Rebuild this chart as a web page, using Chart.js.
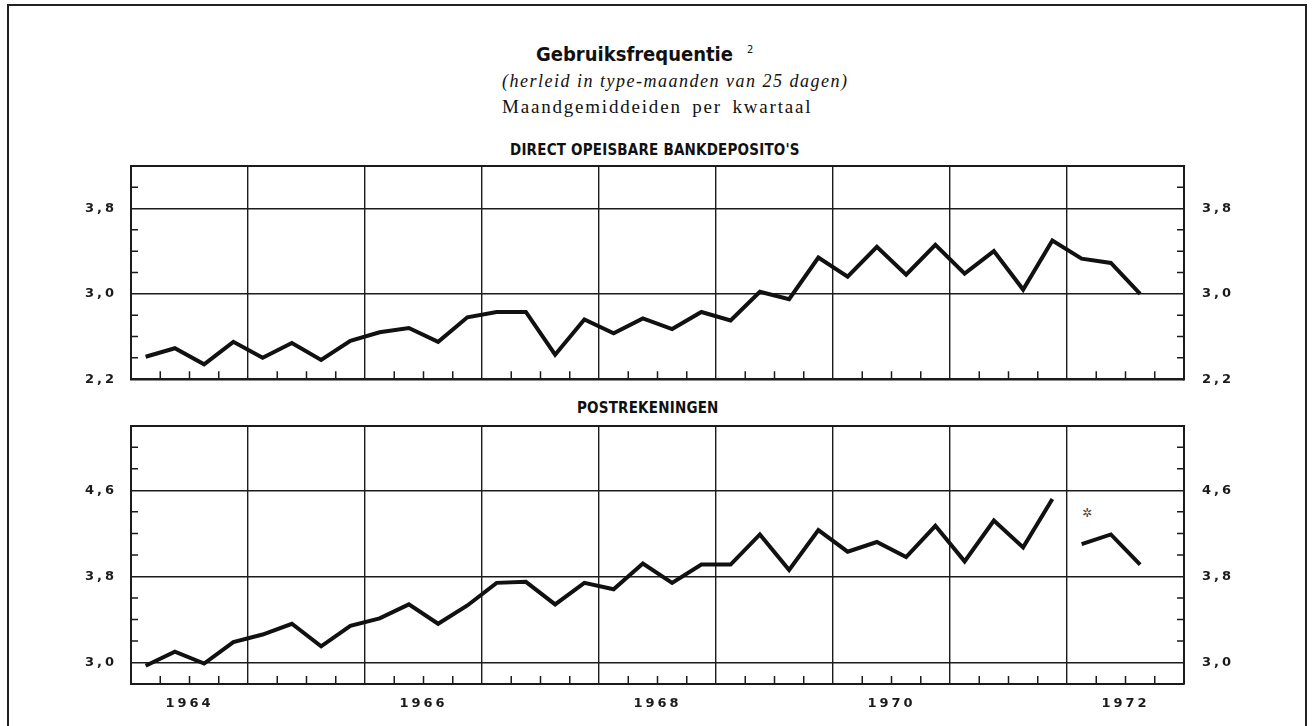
<!DOCTYPE html>
<html lang="nl">
<head>
<meta charset="utf-8">
<title>Gebruiksfrequentie</title>
<script src="https://cdn.jsdelivr.net/npm/chart.js@4.4.1/dist/chart.umd.min.js"></script>
<style>
  html, body { margin: 0; padding: 0; background: #fff; }
  body { width: 1313px; height: 726px; position: relative; overflow: hidden; color: #111; }
  .frame { position: absolute; left: 7px; top: 4px; width: 1300px; height: 760px; box-sizing: border-box; border: 2px solid #222; }
  .txt { position: absolute; white-space: nowrap; transform: translateY(-50%); line-height: 1; }
  .title { left: 536px; top: 54px; font: bold 20px "Liberation Sans Narrow", "DejaVu Sans Condensed", sans-serif; letter-spacing: 0; }
  .title sup { font-size: 11px; font-weight: normal; margin-left: 14px; vertical-align: 8px; }
  .sub { left: 502px; top: 81px; font: italic 18px "Liberation Serif", serif; letter-spacing: 1.5px; }
  .sub2 { left: 502px; top: 107px; font: 19px "Liberation Serif", serif; letter-spacing: 1.8px; word-spacing: 4px; }
  .panel { font: bold 15px "Liberation Sans Narrow", "DejaVu Sans Condensed", sans-serif; letter-spacing: .2px; }
  .star { left: 1082px; top: 513px; font: 12px "DejaVu Sans", sans-serif; color: #444; }
  canvas { position: absolute; left: 0; }
</style>
</head>
<body>
<div class="frame"></div>
<div class="txt title">Gebruiksfrequentie<sup>2</sup></div>
<div class="txt sub">(herleid in type-maanden van 25 dagen)</div>
<div class="txt sub2">Maandgemiddeiden per kwartaal</div>
<div class="txt panel" style="left:510px;top:150px">DIRECT OPEISBARE BANKDEPOSITO'S</div>
<div class="txt panel" style="left:577px;top:408px">POSTREKENINGEN</div>
<div class="txt star">✲</div>

<canvas id="chart-deposito" style="top:140px;width:1313px;height:265px"></canvas>
<canvas id="chart-post" style="top:400px;width:1313px;height:326px"></canvas>

<script>
// ─── Gegevens ───────────────────────────────────────────────────────────────

const firstYear = 1964;
const lastYear = 1972;
const yearLabels = ['1964', '1966', '1968', '1970', '1972'];

// Direct opeisbare bankdeposito's, 1964-I t/m 1972-III
const depositos = [
  2.41, 2.49, 2.34, 2.55,
  2.40, 2.54, 2.38, 2.56,
  2.64, 2.68, 2.55, 2.78,
  2.83, 2.83, 2.43, 2.76,
  2.63, 2.77, 2.67, 2.83,
  2.75, 3.02, 2.95, 3.34,
  3.16, 3.44, 3.18, 3.46,
  3.19, 3.40, 3.04, 3.50,
  3.33, 3.29, 3.00,
];

// Postrekeningen vóór de breuk, 1964-I t/m 1971-IV
const postVoor = [
  2.97, 3.10, 2.99, 3.19,
  3.26, 3.36, 3.15, 3.34,
  3.41, 3.54, 3.36, 3.53,
  3.74, 3.75, 3.54, 3.74,
  3.68, 3.92, 3.74, 3.91,
  3.91, 4.19, 3.86, 4.23,
  4.03, 4.12, 3.98, 4.27,
  3.94, 4.32, 4.07, 4.52,
];

// Postrekeningen na de breuk (*), 1972-I t/m 1972-III
const postNa = [4.10, 4.19, 3.91];

// Gelabelde waarden op de y-as
const depositoLabels = [2.2, 3.0, 3.8];
const postLabels = [3.0, 3.8, 4.6];

// ─── Hulpfuncties ───────────────────────────────────────────────────────────

const INK = '#1b1b1b';
const near = (a, b) => Math.abs(a - b) < 1e-6;

// kwartaalwaarden → punten in het midden van elk kwartaal
function toPoints(values, startQuarter) {
  return values.map((v, i) => ({ x: firstYear + (startQuarter + i + 0.5) / 4, y: v }));
}

function quarterTicks() {
  const ticks = [];
  for (let y = firstYear; y <= lastYear; y++) {
    for (let q = 0; q < 4; q++) ticks.push({ value: y + q / 4 });
  }
  ticks.push({ value: lastYear + 1 });
  return ticks;
}

// korte streepjes binnen het kader (kwartalen onderaan, 0,2 links en rechts)
const innerTicks = {
  id: 'innerTicks',
  beforeDraw(chart) {
    chart.ctx.letterSpacing = '3px';
  },
  beforeDatasetsDraw(chart) {
    const { ctx, chartArea: a, scales } = chart;
    ctx.save();
    ctx.strokeStyle = INK;
    ctx.lineWidth = 1.5;
    ctx.beginPath();
    scales.x.ticks.forEach(t => {
      if (Number.isInteger(t.value)) return;
      const px = scales.x.getPixelForValue(t.value);
      ctx.moveTo(px, a.bottom);
      ctx.lineTo(px, a.bottom - 8);
    });
    const strong = chart.options.plugins.innerTicks.strong;
    scales.y.ticks.forEach(t => {
      if (strong.some(s => near(s, t.value))) return;
      const py = scales.y.getPixelForValue(t.value);
      ctx.moveTo(a.left, py);
      ctx.lineTo(a.left + 7, py);
      ctx.moveTo(a.right, py);
      ctx.lineTo(a.right - 7, py);
    });
    ctx.stroke();
    ctx.restore();
  },
};

function makePanel(id, { min, max, labelled, datasets, showYears, padding, xHeight }) {
  const strong = [...labelled, min, max];
  const yLabel = v => labelled.some(l => near(l, v)) ? v.toFixed(1).replace('.', ',') : '';
  const tickFont = { family: 'DejaVu Sans', size: 13, weight: 'bold' };

  const yAxis = (position, pad) => ({
    type: 'linear',
    position,
    min, max,
    afterFit: s => { s.width = 60; },
    ticks: { stepSize: 0.2, color: INK, font: tickFont, padding: pad, callback: yLabel },
    grid: {
      display: position === 'left',
      drawTicks: false,
      color: ctx => strong.some(s => near(s, ctx.tick.value)) ? INK : 'rgba(0,0,0,0)',
      lineWidth: ctx => near(ctx.tick.value, max) ? 2 : 1.4,
    },
    border: { display: true, color: INK, width: 2 },
  });

  return new Chart(document.getElementById(id), {
    type: 'line',
    data: { datasets },
    options: {
      responsive: false,
      maintainAspectRatio: false,
      animation: false,
      layout: { padding },
      plugins: {
        legend: { display: false },
        tooltip: { enabled: false },
        innerTicks: { strong },
      },
      scales: {
        x: {
          type: 'linear',
          min: firstYear,
          max: lastYear + 1,
          afterBuildTicks: s => { s.ticks = quarterTicks(); },
          afterFit: s => { s.height = xHeight; },
          ticks: {
            display: showYears,
            autoSkip: false,
            maxRotation: 0,
            padding: 12,
            color: INK,
            font: tickFont,
            callback: v => yearLabels.includes(String(v - 0.5)) ? String(v - 0.5) : '',
          },
          grid: {
            drawTicks: false,
            color: ctx => Number.isInteger(ctx.tick.value) ? INK : 'rgba(0,0,0,0)',
            lineWidth: 1.4,
          },
          border: { display: true, color: INK, width: 2 },
        },
        y: yAxis('left', 14),
        yR: yAxis('right', 18),
      },
    },
    plugins: [innerTicks],
  });
}

const lineStyle = {
  borderColor: '#111',
  borderWidth: 4,
  pointRadius: 0,
  tension: 0,
  borderJoinStyle: 'miter',
  fill: false,
};

// ─── Panelen ────────────────────────────────────────────────────────────────

for (const c of document.querySelectorAll('canvas')) {
  c.width = parseInt(c.style.width);
  c.height = parseInt(c.style.height);
}

makePanel('chart-deposito', {
  min: 2.2, max: 4.2,
  labelled: depositoLabels,
  datasets: [{ ...lineStyle, label: "Direct opeisbare bankdeposito's", data: toPoints(depositos, 0) }],
  showYears: false,
  padding: { left: 71, right: 69, top: 22, bottom: 4 },
  xHeight: 18,
});

makePanel('chart-post', {
  min: 2.8, max: 5.2,
  labelled: postLabels,
  datasets: [
    { ...lineStyle, label: 'Postrekeningen', data: toPoints(postVoor, 0) },
    { ...lineStyle, label: 'Postrekeningen (*)', data: toPoints(postNa, postVoor.length) },
  ],
  showYears: true,
  padding: { left: 71, right: 69, top: 18, bottom: 4 },
  xHeight: 38,
});
</script>
</body>
</html>
